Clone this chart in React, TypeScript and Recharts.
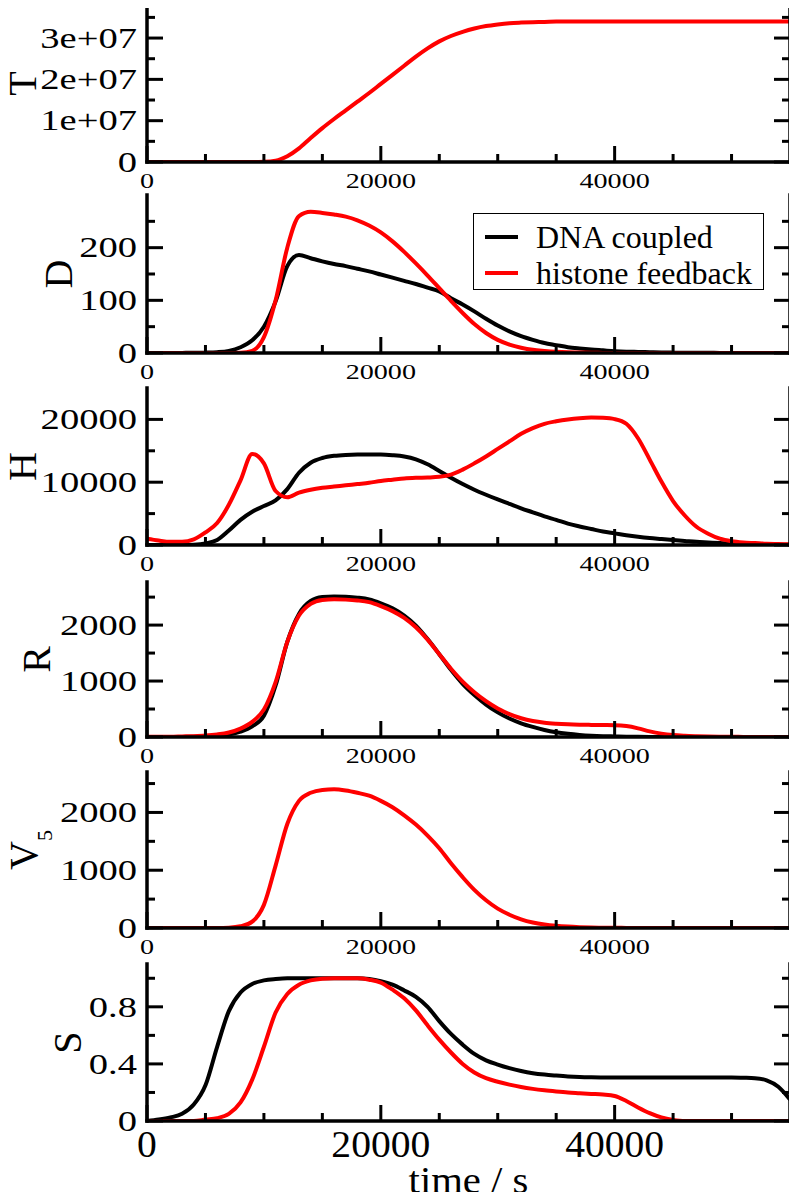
import React from 'react';
import { LineChart, Line, XAxis, YAxis, Legend } from 'recharts';

// time grid (s), one point every 1000 s
const time = [
  0, 1000, 2000, 3000, 4000, 5000, 6000, 7000, 8000, 9000,
  10000, 11000, 12000, 13000, 14000, 15000, 16000, 17000, 18000, 19000,
  20000, 21000, 22000, 23000, 24000, 25000, 26000, 27000, 28000, 29000,
  30000, 31000, 32000, 33000, 34000, 35000, 36000, 37000, 38000, 39000,
  40000, 41000, 42000, 43000, 44000, 45000, 46000, 47000, 48000, 49000,
  50000, 51000, 52000, 53000, 54000, 55000,
];

const xMajor = [0, 20000, 40000];
const xLabels = ['0', '20000', '40000'];
const xMinor = [5000, 10000, 15000, 25000, 30000, 35000, 45000, 50000];

// T (histone feedback)
const histT = [
  0, 0, 0, 0, 0, 0, 0, 0, 0, 0,
  0.005e7, 0.03e7, 0.14e7, 0.33e7, 0.58e7, 0.82e7, 1.04e7, 1.25e7, 1.46e7, 1.67e7,
  1.89e7, 2.11e7, 2.33e7, 2.55e7, 2.75e7, 2.92e7, 3.05e7, 3.15e7, 3.23e7, 3.29e7,
  3.33e7, 3.36e7, 3.375e7, 3.385e7, 3.39e7, 3.4e7, 3.4e7, 3.4e7, 3.4e7, 3.4e7,
  3.4e7, 3.4e7, 3.4e7, 3.4e7, 3.4e7, 3.4e7, 3.4e7, 3.4e7, 3.4e7, 3.4e7,
  3.4e7, 3.4e7, 3.4e7, 3.4e7, 3.4e7, 3.4e7,
];
const tMajor = [0, 1e7, 2e7, 3e7];
const tLabels = ['0', '1e+07', '2e+07', '3e+07'];
const tMinor = [0.5e7, 1.5e7, 2.5e7, 3.5e7];

// D
const dnaD = [
  0, 0, 0, 0.2, 0.4, 0.7, 1.5, 4, 11, 24,
  50, 98, 165, 186, 180, 174, 169, 165, 160, 155,
  149, 143, 137, 131, 124, 117, 104, 92, 79, 65,
  52, 41, 32, 25, 19, 15, 11, 8.5, 6.5, 5,
  3.5, 2.5, 2, 1.5, 1, 0.7, 0.5, 0.4, 0.3, 0.2,
  0.1, 0.1, 0, 0, 0, 0,
];
const histD = [
  0, 0, 0, 0, 0, 0, 0, 0, 0.5, 4,
  30, 100, 200, 260, 268, 266, 263, 259, 252, 242,
  229, 212, 192, 170, 147, 123, 99, 76, 55, 38,
  25, 16, 10, 6, 4, 2.5, 1.5, 1, 0.5, 0.2,
  0, 0, 0, 0, 0, 0, 0, 0, 0, 0,
  0, 0, 0, 0, 0, 0,
];
const dMajor = [0, 100, 200];
const dLabels = ['0', '100', '200'];
const dMinor = [50, 150, 250];

// H
const dnaH = [
  0, 0, 0, 0, 50, 250, 800, 2300, 4000, 5300,
  6200, 7100, 8900, 11500, 13100, 13850, 14200, 14350, 14400, 14400,
  14400, 14300, 14100, 13650, 12850, 11800, 10700, 9700, 8800, 8000,
  7250, 6550, 5850, 5200, 4550, 4000, 3400, 2950, 2550, 2150,
  1850, 1550, 1300, 1100, 950, 800, 650, 500, 400, 300,
  230, 170, 120, 80, 50, 30,
];
const histH = [
  1000, 700, 500, 500, 900, 2000, 3500, 6400, 10300, 14500,
  13000, 8600, 7600, 8350, 8800, 9100, 9300, 9500, 9700, 9900,
  10200, 10400, 10600, 10700, 10750, 10850, 11200, 12000, 13000, 14100,
  15300, 16500, 17700, 18600, 19300, 19700, 20000, 20200, 20300, 20250,
  20050, 19300, 17000, 13600, 10100, 7000, 4700, 2900, 1800, 1000,
  600, 400, 300, 200, 150, 100,
];
const hMajor = [0, 10000, 20000];
const hLabels = ['0', '10000', '20000'];
const hMinor = [5000, 15000];

// R
const dnaR = [
  0, 0, 0, 2, 5, 10, 20, 45, 95, 190,
  380, 920, 1700, 2200, 2430, 2500, 2510, 2505, 2490, 2460,
  2390, 2300, 2170, 1990, 1750, 1480, 1200, 950, 750, 580,
  440, 330, 245, 180, 125, 85, 58, 38, 24, 15,
  10, 5, 3, 2, 1, 0, 0, 0, 0, 0,
  0, 0, 0, 0, 0, 0,
];
const histR = [
  5, 5, 5, 10, 15, 25, 45, 80, 150, 270,
  490, 980, 1700, 2170, 2380, 2450, 2460, 2455, 2440, 2410,
  2340, 2250, 2130, 1960, 1740, 1480, 1220, 990, 800, 640,
  510, 410, 335, 285, 255, 238, 227, 220, 216, 213,
  210, 195, 155, 100, 60, 35, 22, 14, 8, 5,
  3, 2, 1, 1, 0, 0,
];
const rMajor = [0, 1000, 2000];
const rLabels = ['0', '1000', '2000'];
const rMinor = [500, 1500, 2500];

// V5 (histone feedback)
const histV5 = [
  0, 0, 0, 0, 0, 0, 0, 5, 30, 110,
  400, 1080, 1800, 2200, 2340, 2390, 2400, 2380, 2340, 2290,
  2200, 2090, 1950, 1790, 1600, 1380, 1120, 880, 660, 480,
  335, 230, 150, 95, 60, 38, 24, 15, 9, 5,
  3, 2, 1, 0, 0, 0, 0, 0, 0, 0,
  0, 0, 0, 0, 0, 0,
];

// S
const dnaS = [
  0, 0.01, 0.025, 0.05, 0.115, 0.25, 0.52, 0.77, 0.9, 0.96,
  0.985, 0.995, 1, 1, 1, 1, 1, 1, 1, 0.995,
  0.98, 0.955, 0.915, 0.87, 0.8, 0.7, 0.61, 0.535, 0.47, 0.425,
  0.395, 0.37, 0.35, 0.335, 0.325, 0.318, 0.312, 0.308, 0.306, 0.305,
  0.305, 0.305, 0.305, 0.305, 0.305, 0.305, 0.305, 0.305, 0.305, 0.305,
  0.305, 0.303, 0.3, 0.285, 0.24, 0.15,
];
const histS = [
  0, 0, 0, 0, 0, 0.01, 0.02, 0.05, 0.13, 0.29,
  0.52, 0.76, 0.89, 0.955, 0.985, 0.997, 1, 1, 1, 0.99,
  0.97, 0.92, 0.86, 0.775, 0.67, 0.57, 0.48, 0.4, 0.34, 0.3,
  0.275, 0.255, 0.238, 0.225, 0.215, 0.207, 0.2, 0.195, 0.19, 0.185,
  0.175, 0.14, 0.095, 0.055, 0.025, 0.008, 0, 0, 0, 0,
  0, 0, 0, 0, 0, 0,
];
const sMajor = [0, 0.4, 0.8];
const sLabels = ['0', '0.4', '0.8'];
const sMinor = [0.2, 0.6, 1.0];

const SERIF = '"Liberation Serif", "DejaVu Serif", "Times New Roman", serif';
const INK = '#000000';
const RED = '#ff0000';
const FRAME = { stroke: INK, strokeWidth: 3.5, strokeLinecap: 'square' as const };
const MAJOR_LEN = 16;
const MINOR_LEN = 8;
const PAD = 6;

type PanelSpec = {
  top: number;
  bottom: number;
  domain: [number, number];
  yMajor: number[];
  yLabels: string[];
  yMinor: number[];
  name: string;
  sub?: string;
  nameX: number;
  black?: number[];
  red: number[];
  legend?: boolean;
  last?: boolean;
};

const bottomTick = (big: boolean) => (p: any) => {
  const i = xMajor.indexOf(p.payload.value);
  const len = i >= 0 ? MAJOR_LEN : MINOR_LEN;
  return (
    <g>
      <line x1={p.x} x2={p.x} y1={p.y} y2={p.y - len} stroke={INK} strokeWidth={3} />
      {i >= 0 && (
        <g transform={`translate(${p.x},${p.y + (big ? 36 : 26)}) scale(${big ? 1.07 : 1.28},1)`}>
          <text x={0} y={0} textAnchor="middle" fontSize={big ? 37 : 22} fontFamily={SERIF} fill={INK}>
            {xLabels[i]}
          </text>
        </g>
      )}
    </g>
  );
};

const topTick = (p: any) => {
  const len = xMajor.includes(p.payload.value) ? MAJOR_LEN : MINOR_LEN;
  return <line x1={p.x} x2={p.x} y1={p.y} y2={p.y + len} stroke={INK} strokeWidth={3} />;
};

const leftTick = (major: number[], labels: string[]) => (p: any) => {
  const i = major.indexOf(p.payload.value);
  const len = i >= 0 ? MAJOR_LEN : MINOR_LEN;
  return (
    <g>
      <line x1={p.x} x2={p.x + len} y1={p.y} y2={p.y} stroke={INK} strokeWidth={3} />
      {i >= 0 && (
        <g transform={`translate(${p.x - 10},${p.y}) scale(1.33,1)`}>
          <text x={0} y={0} textAnchor="end" dominantBaseline="central" fontSize={29} fontFamily={SERIF} fill={INK}>
            {labels[i]}
          </text>
        </g>
      )}
    </g>
  );
};

const rightTick = (major: number[]) => (p: any) => {
  const len = major.includes(p.payload.value) ? MAJOR_LEN : MINOR_LEN;
  return <line x1={p.x} x2={p.x - len} y1={p.y} y2={p.y} stroke={INK} strokeWidth={3} />;
};

const LegendBox = (props: any) => (
  <div
    style={{
      border: '1px solid #000',
      background: '#fff',
      width: 291,
      height: 77,
      fontFamily: SERIF,
      fontSize: 32,
      lineHeight: 1,
      paddingTop: 5,
      boxSizing: 'border-box',
    }}
  >
    {(props.payload || []).map((e: any) => (
      <div key={e.value} style={{ display: 'flex', alignItems: 'center', height: 36 }}>
        <div style={{ marginLeft: 11, width: 33, height: 4, background: e.color }} />
        <span style={{ marginLeft: 18, color: INK }}>{e.value}</span>
      </div>
    ))}
  </div>
);

const Panel = ({ spec }: { spec: PanelSpec }) => {
  const xH = spec.last ? 79 : 32;
  const h = spec.bottom - spec.top + PAD + xH;
  const rows = time.map((t, i) => ({
    t,
    dna: spec.black ? spec.black[i] : null,
    hist: spec.red[i],
  }));
  const xTicks = [...xMajor, ...xMinor].sort((a, b) => a - b);
  const yTicks = [...spec.yMajor, ...spec.yMinor].sort((a, b) => a - b);

  const nameLabel = (lp: any) => {
    const vb = lp.viewBox || {};
    const cy = vb.y + vb.height / 2;
    return (
      <text
        x={spec.nameX}
        y={cy}
        transform={`rotate(-90, ${spec.nameX}, ${cy})`}
        textAnchor="middle"
        fontSize={40}
        fontFamily={SERIF}
        fill={INK}
      >
        {spec.name}
        {spec.sub && (
          <tspan dy={15} fontSize={22}>
            {spec.sub}
          </tspan>
        )}
      </text>
    );
  };

  const timeLabel = (lp: any) => {
    const vb = lp.viewBox || {};
    return (
      <g transform={`translate(${vb.x + vb.width / 2},${vb.y + 72}) scale(1.1,1)`}>
        <text x={0} y={0} textAnchor="middle" fontSize={37} fontFamily={SERIF} fill={INK}>
          time / s
        </text>
      </g>
    );
  };

  return (
    <div style={{ position: 'absolute', left: 0, top: spec.top - PAD }}>
      <LineChart width={797} height={h} data={rows} margin={{ top: PAD, right: 0, bottom: 0, left: 0 }}>
        <XAxis
          xAxisId="b"
          dataKey="t"
          type="number"
          domain={[0, 55000]}
          allowDataOverflow
          ticks={xTicks}
          interval={0}
          height={xH}
          tickSize={0}
          tickMargin={0}
          axisLine={FRAME}
          tickLine={false}
          tick={bottomTick(!!spec.last)}
          label={spec.last ? timeLabel : undefined}
        />
        <XAxis
          xAxisId="t"
          orientation="top"
          dataKey="t"
          type="number"
          domain={[0, 55000]}
          allowDataOverflow
          ticks={xTicks}
          interval={0}
          height={0}
          tickSize={0}
          tickMargin={0}
          axisLine={FRAME}
          tickLine={false}
          tick={topTick}
        />
        <YAxis
          yAxisId="l"
          type="number"
          domain={spec.domain}
          allowDataOverflow
          ticks={yTicks}
          interval={0}
          width={147}
          tickSize={0}
          tickMargin={0}
          axisLine={FRAME}
          tickLine={false}
          tick={leftTick(spec.yMajor, spec.yLabels)}
          label={nameLabel}
        />
        <YAxis
          yAxisId="r"
          orientation="right"
          type="number"
          domain={spec.domain}
          allowDataOverflow
          ticks={yTicks}
          interval={0}
          width={7}
          tickSize={0}
          tickMargin={0}
          axisLine={FRAME}
          tickLine={false}
          tick={rightTick(spec.yMajor)}
        />
        {spec.black && (
          <Line
            xAxisId="b"
            yAxisId="l"
            type="monotone"
            dataKey="dna"
            name="DNA coupled"
            stroke={INK}
            strokeWidth={4}
            dot={false}
            isAnimationActive={false}
          />
        )}
        <Line
          xAxisId="b"
          yAxisId="l"
          type="monotone"
          dataKey="hist"
          name="histone feedback"
          stroke={RED}
          strokeWidth={4}
          dot={false}
          isAnimationActive={false}
        />
        {spec.legend && (
          <Legend
            verticalAlign="middle"
            align="center"
            content={(p: any) => <LegendBox {...p} />}
            wrapperStyle={{ left: 473, top: 213 - (spec.top - PAD), width: 293, height: 79 }}
          />
        )}
      </LineChart>
    </div>
  );
};

const panels: PanelSpec[] = [
  { top: 5, bottom: 162, domain: [0, 3.8e7], yMajor: tMajor, yLabels: tLabels, yMinor: tMinor, name: 'T', nameX: 36, red: histT },
  { top: 195, bottom: 353, domain: [0, 300], yMajor: dMajor, yLabels: dLabels, yMinor: dMinor, name: 'D', nameX: 72, black: dnaD, red: histD, legend: true },
  { top: 388, bottom: 545, domain: [0, 25000], yMajor: hMajor, yLabels: hLabels, yMinor: hMinor, name: 'H', nameX: 36, black: dnaH, red: histH },
  { top: 582, bottom: 737, domain: [0, 2770], yMajor: rMajor, yLabels: rLabels, yMinor: rMinor, name: 'R', nameX: 50, black: dnaR, red: histR },
  { top: 772, bottom: 928, domain: [0, 2700], yMajor: rMajor, yLabels: rLabels, yMinor: rMinor, name: 'V', sub: '5', nameX: 37, red: histV5 },
  { top: 964, bottom: 1121, domain: [0, 1.1], yMajor: sMajor, yLabels: sLabels, yMinor: sMinor, name: 'S', nameX: 81, black: dnaS, red: histS, last: true },
];

export default function App() {
  return (
    <div style={{ position: 'relative', width: 797, height: 1200, margin: -8, background: '#fff' }}>
      {panels.map((p) => (
        <Panel key={p.name} spec={p} />
      ))}
    </div>
  );
}
